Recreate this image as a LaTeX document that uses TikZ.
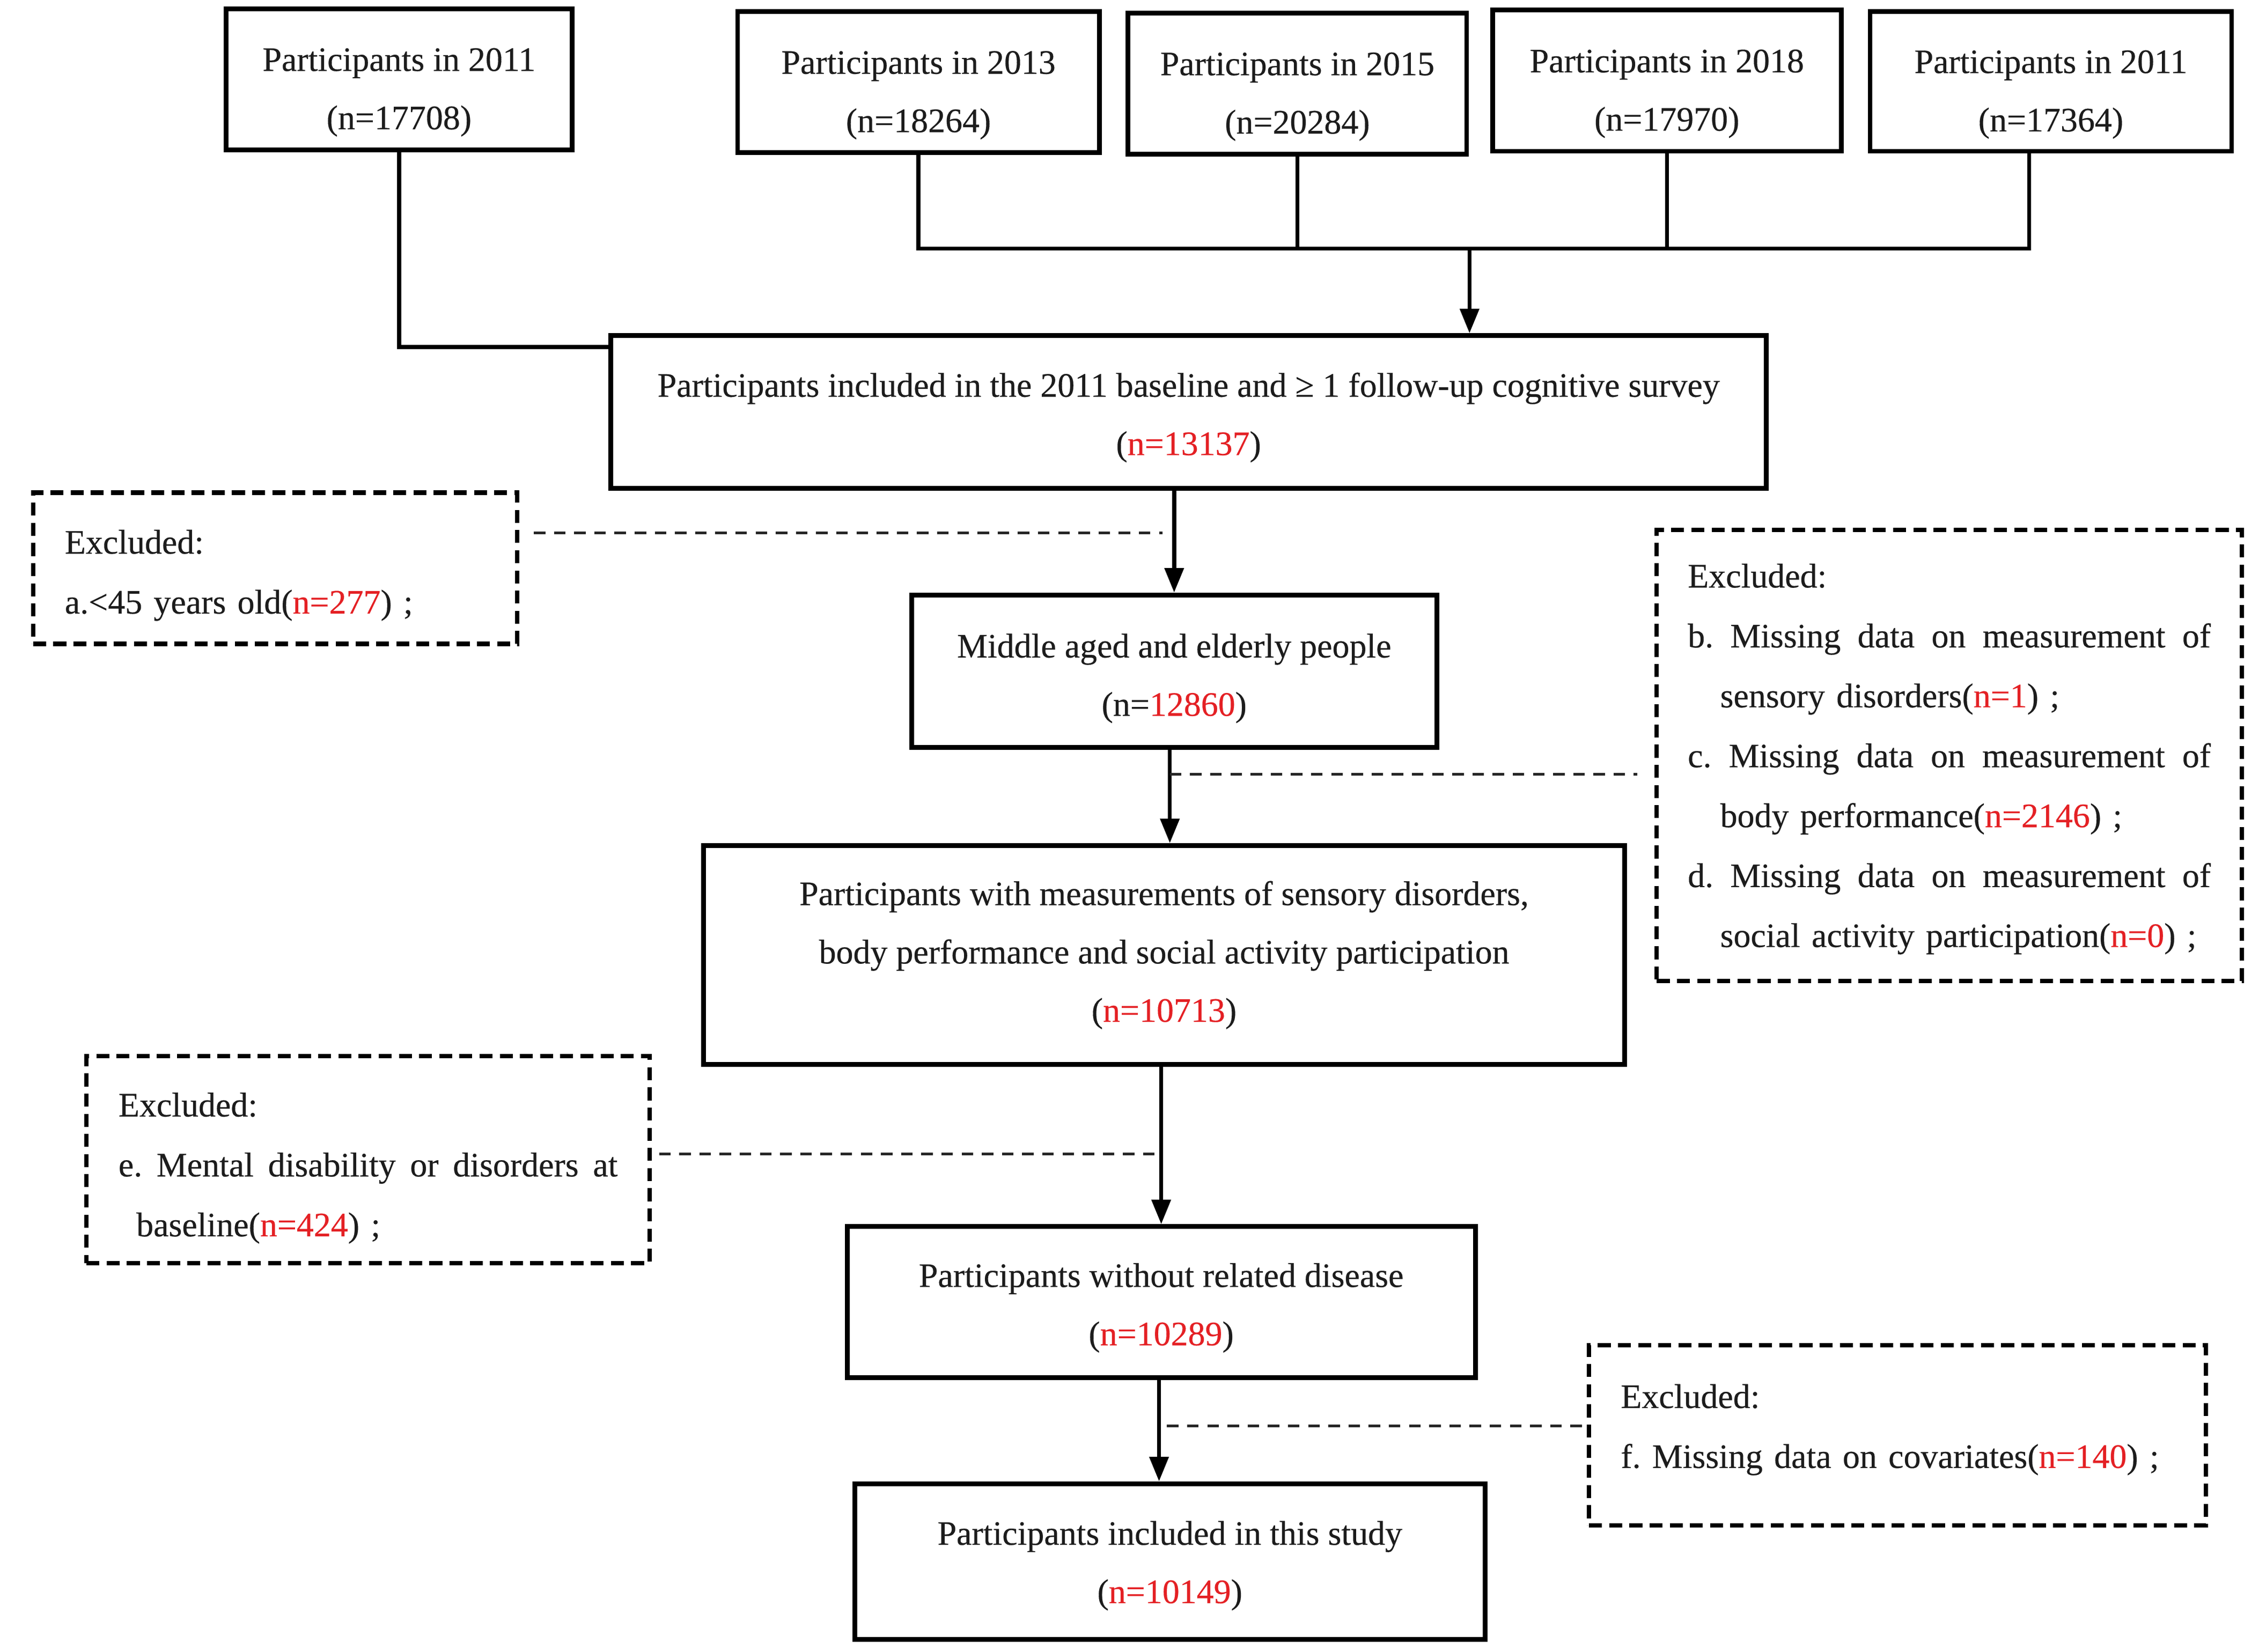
\documentclass[tikz,border=0pt]{standalone}
\usepackage{fontspec}
\setmainfont{Liberation Serif}[FakeBold=0.3]
\usetikzlibrary{arrows.meta,calc}
\definecolor{nred}{RGB}{228,32,36}
\definecolor{txt}{RGB}{28,28,28}
\newcommand{\nr}[1]{\textcolor{nred}{#1}}
\newcommand{\jsp}{\hspace{5pt plus 1fill}}
\newcommand{\jline}[2]{\leavevmode\hbox to #1{#2}}
\newcommand{\tsp}[1]{\rule{0pt}{#1}}
\frenchspacing
\begin{document}
\begin{tikzpicture}[x=1pt,y=-1pt,
  font=\fontsize{23.8}{40.5}\selectfont,
  box/.style={draw=black, line width=3.3pt, inner sep=0pt, align=center, text=txt},
  exbox/.style={draw=black, line width=3pt, dash pattern=on 9pt off 5pt, inner xsep=22pt, inner ysep=0pt, align=left, text=txt, font=\fontsize{23.8}{41.6}\selectfont},
  link/.style={line width=2.8pt},
  arr/.style={line width=2.8pt, -{Triangle[length=17pt,width=13pt]}},
  dline/.style={line width=1.8pt, dash pattern=on 8pt off 6pt, draw=black!85}]
\useasboundingbox (0,0) rectangle (1568,1146.5);

% top boxes
\node[box, minimum width=240pt, minimum height=98pt] (b1) at (277,55) {\tsp{34pt}Participants in 2011\\(n=17708)};
\node[box, minimum width=251pt, minimum height=98pt] (b2) at (637.5,57) {\tsp{34pt}Participants in 2013\\(n=18264)};
\node[box, minimum width=235pt, minimum height=98pt] (b3) at (900.5,58) {\tsp{34pt}Participants in 2015\\(n=20284)};
\node[box, minimum width=242pt, minimum height=98pt] (b4) at (1157,56) {\tsp{34pt}Participants in 2018\\(n=17970)};
\node[box, minimum width=251pt, minimum height=97pt] (b5) at (1423.5,56.5) {\tsp{34pt}Participants in 2011\\(n=17364)};

% main flow
\node[box, minimum width=802pt, minimum height=106pt] (base) at (825,286) {\tsp{24.4pt}Participants included in the 2011 baseline and ≥ 1 follow-up cognitive survey\\(\nr{n=13137})};
\node[box, minimum width=364.5pt, minimum height=106pt] (mid) at (815,466) {\tsp{26.4pt}Middle aged and elderly people\\(n=\nr{12860})};
\node[box, minimum width=639.5pt, minimum height=152pt] (sens) at (808,663) {Participants with measurements of sensory disorders,\\body performance and social activity participation\\(\nr{n=10713})};
\node[box, minimum width=436pt, minimum height=105pt] (wd) at (806,904) {\tsp{24.4pt}Participants without related disease\\(\nr{n=10289})};
\node[box, minimum width=437.6pt, minimum height=108pt] (fin) at (812,1084) {\tsp{22.4pt}Participants included in this study\\(\nr{n=10149})};

% excluded boxes
\node[exbox, text width=292pt, minimum height=105pt] (exa) at (191,394.5) {\tsp{26.4pt}Excluded:\\a.<45 years old(\nr{n=277})\ ;};
\node[exbox, text width=363pt, inner xsep=21.5pt, minimum height=313pt] (exbd) at (1353,524.5) {\tsp{21.4pt}Excluded:\\
\jline{363pt}{b.\jsp Missing\jsp data\jsp on\jsp measurement\jsp of}\\
\hspace*{22.5pt}sensory disorders(\nr{n=1})\ ;\\
\jline{363pt}{c.\jsp Missing\jsp data\jsp on\jsp measurement\jsp of}\\
\hspace*{22.5pt}body performance(\nr{n=2146})\ ;\\
\jline{363pt}{d.\jsp Missing\jsp data\jsp on\jsp measurement\jsp of}\\
\hspace*{22.5pt}social activity participation(\nr{n=0})\ ;};
\node[exbox, text width=346.5pt, inner xsep=22.2pt, minimum height=144pt] (exe) at (255.5,805) {\tsp{28.4pt}Excluded:\\
\jline{346.5pt}{e.\jsp Mental\jsp disability\jsp or\jsp disorders\jsp at}\\
\hspace*{12.4pt}baseline(\nr{n=424})\ ;};
\node[exbox, text width=384pt, minimum height=125pt] (exf) at (1317,996.5) {Excluded:\\f. Missing data on covariates(\nr{n=140})\ ;\rule[-13pt]{0pt}{0pt}};

% top connectors
\coordinate (hub) at (1020,172.5);
\draw[link] (b1.south) |- ([yshift=-9.5pt]base.north west);
\draw[link] (b2.south) -- (b2.south |- hub) -- ($(b5.south |- hub)+(-15,0)$) -- ([xshift=-15pt]b5.south);
\draw[link] (b3.south) -- (b3.south |- hub);
\draw[link] (b4.south) -- (b4.south |- hub);
\draw[arr] (hub) -- (hub |- base.north);

% main arrows
\draw[arr] (mid.north |- base.south) -- (mid.north);
\draw[arr] ([xshift=-3pt]mid.south) -- ($(mid.south |- sens.north)+(-3,0)$);
\draw[arr] (wd.north |- sens.south) -- (wd.north);
\draw[arr] ([xshift=-1.5pt]wd.south) -- ($(wd.south |- fin.north)+(-1.5,0)$);

% dashed exclusion links
\draw[dline] ($(exa.east |- 0,370)+(10,0)$) -- ($(mid.north |- 0,370)+(-8,0)$);
\draw[dline] ($(mid.south |- 0,537.5)+(-3,0)$) -- ($(exbd.west |- 0,537.5)+(-12,0)$);
\draw[dline] ($(exe.east |- 0,801)+(5,0)$) -- (wd.north |- 0,801);
\draw[dline] ($(wd.south |- 0,990)+(4,0)$) -- (exf.west |- 0,990);
\end{tikzpicture}
\end{document}
